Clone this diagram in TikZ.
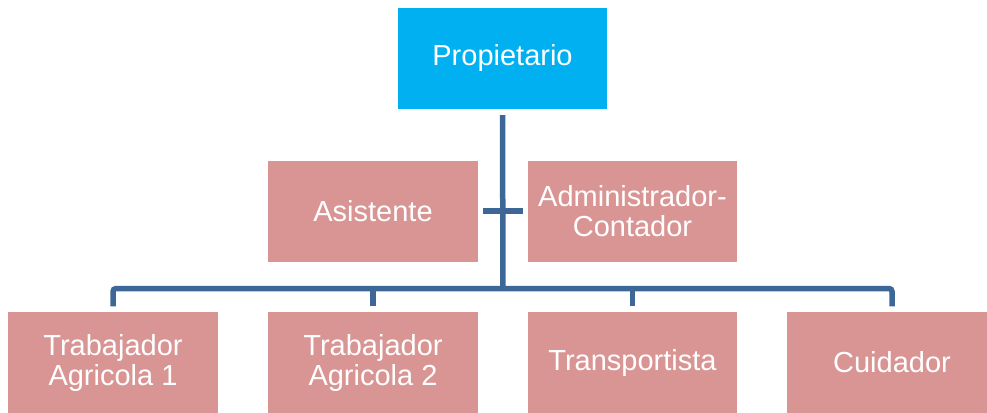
\documentclass[tikz,border=0pt]{standalone}
\usepackage{fontspec}
\setmainfont{Liberation Sans}
\definecolor{jefe}{RGB}{0,176,240}
\definecolor{puesto}{RGB}{217,149,148}
\definecolor{linea}{RGB}{61,103,150}
\tikzset{
 caja/.style={fill=puesto,text=white,minimum width=209.5pt,minimum height=101pt,inner sep=0pt,align=center,font=\fontsize{29}{30}\selectfont},
 rama/.style={linea,line width=5.5pt,rounded corners=3pt}
}
\begin{document}
\begin{tikzpicture}[x=1pt,y=-1pt]
 \useasboundingbox (0,0) rectangle (987,412);
 \node[caja,fill=jefe] (prop) at (502.5,58.5) {Propietario};
 \node[caja] (asis) at (373,211) {Asistente};
 \node[caja] (admin) at (632.5,211) {Administrador-\\Contador};
 \node[caja] (trab1) at (113,362.5) {Trabajador\\Agricola 1};
 \node[caja] (trab2) at (373,362.5) {Trabajador\\Agricola 2};
 \node[caja] (trans) at (632.5,362.5) {Transportista};
 \node[caja] (cuid) at (892,362.5) {Cuidador};
 \coordinate (barra) at (503,288.5);
 \draw[rama] ([yshift=-6pt]prop.south) -- (barra);
 \draw[rama] ([xshift=5pt]asis.east) -- ([xshift=-5pt]admin.west);
 \draw[rama] ([yshift=5.5pt]trab1.north) |- (barra) -| ([yshift=5.5pt]cuid.north);
 \draw[rama] ([yshift=5.5pt]trab2.north) -- (trab2.north |- barra);
 \draw[rama] ([yshift=5.5pt]trans.north) -- (trans.north |- barra);
\end{tikzpicture}
\end{document}
